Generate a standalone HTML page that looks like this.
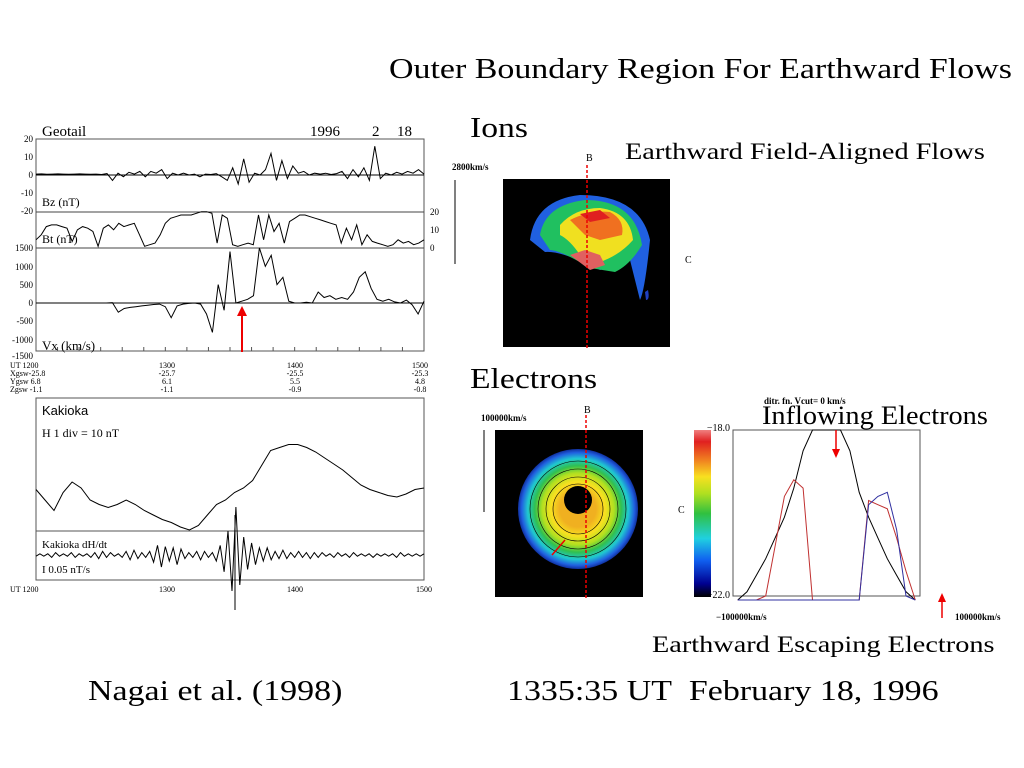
<!DOCTYPE html>
<html><head><meta charset="utf-8"><style>
body{margin:0;background:#fff;}
#root{position:relative;width:1024px;height:768px;overflow:hidden;font-family:"Liberation Serif",serif;}
.t{position:absolute;white-space:nowrap;color:#000;transform-origin:0 0;}
svg{position:absolute;left:0;top:0;}
</style></head><body>
<div id="root">
<div class="t" style="left:389px;top:53px;font-size:29px;transform:scaleX(1.17);">Outer Boundary Region For Earthward Flows</div>
<div class="t" style="left:470px;top:112px;font-size:29px;transform:scaleX(1.16);">Ions</div>
<div class="t" style="left:625px;top:139px;font-size:23px;transform:scaleX(1.23);">Earthward Field-Aligned Flows</div>
<div class="t" style="left:470px;top:363px;font-size:29px;transform:scaleX(1.16);">Electrons</div>
<div class="t" style="left:762px;top:401px;font-size:26px;transform:scaleX(1.09);">Inflowing Electrons</div>
<div class="t" style="left:652px;top:632px;font-size:23px;transform:scaleX(1.23);">Earthward Escaping Electrons</div>
<div class="t" style="left:88px;top:675px;font-size:29px;transform:scaleX(1.17);">Nagai et al. (1998)</div>
<div class="t" style="left:507px;top:675px;font-size:29px;transform:scaleX(1.17);">1335:35 UT&nbsp; February 18, 1996</div>
<svg id="chart" width="1024" height="768" font-family="Liberation Serif, serif">
<defs>
<radialGradient id="eg" cx="50%" cy="50%" r="50%">
<stop offset="0.3" stop-color="#f0b020"/><stop offset="0.45" stop-color="#f8e020"/><stop offset="0.6" stop-color="#b0e020"/><stop offset="0.72" stop-color="#30c050"/><stop offset="0.84" stop-color="#20c8d0"/><stop offset="0.94" stop-color="#2060e0"/><stop offset="1" stop-color="#1030a0"/></radialGradient>
<linearGradient id="cb" x1="0" y1="1" x2="0" y2="0">
<stop offset="0" stop-color="#000"/><stop offset="0.08" stop-color="#000090"/><stop offset="0.22" stop-color="#1060f0"/><stop offset="0.35" stop-color="#20d0e0"/><stop offset="0.5" stop-color="#30c040"/><stop offset="0.62" stop-color="#b0e020"/><stop offset="0.72" stop-color="#f8e020"/><stop offset="0.82" stop-color="#f08020"/><stop offset="0.93" stop-color="#e02020"/><stop offset="1" stop-color="#f08080"/></linearGradient>
</defs>
<g id="g"></g>
</svg>
</div>
<script>
// Geotail time series (1200-1500 UT, evenly spaced)
const bzValues=[0.5,0.6,0.4,0.5,0.6,0.5,0.4,0.5,0.6,0.5,0.4,0.5,0.3,0.8,-3,1,-1,1.5,0.5,2,-1,2,1,3,-2,1,0,1,0,0.5,-1,0.5,0.3,0.8,-1,-3,4,-5,9,-4,1,0,3,12,-3,8,-2,5,1,2,0,1,0.5,1,0.3,0.8,2,-2,3,-1,4,-3,16,-2,1,0,1.5,0.5,2,1,3,0.5];
const btValues=[5,8,13,14,14,13,12,4,11,13,12,10,1,12,14,11,15,13,14,15,8,1,2,3,8,15,18,19,20,20,20,21,22,22,21,3,20,18,2,1,2,3,2,20,5,20,10,15,3,16,18,20,20,19,18,17,16,15,14,3,12,5,14,2,8,4,3,2,1,2,5,3,4,2,3,5];
const vxValues=[0,0,0,0,0,0,0,0,0,0,0,0,0,10,-250,-150,-120,-100,-80,-60,-40,-30,-100,-400,-80,-30,-10,0,-30,-300,-800,500,-200,1400,0,50,100,200,1500,1000,1300,500,700,50,0,0,20,0,300,150,200,100,150,100,300,700,850,400,100,50,100,30,0,80,-50,-300,50];
// Kakioka H (nT rel.) and dH/dt
const hValues=[27,20,13,25,32,28,20,17,15,17,20,17,13,10,7,5,2,0,3,10,17,20,25,28,33,43,53,55,57,57,55,52,48,44,40,35,30,27,25,23,22,24,27,28];
const dhValues=[1,-1,1,-1,2,-2,1,-1,1,-2,2,-1,1,-1,2,-2,3,-3,2,-2,1,-1,2,-3,4,-4,3,-2,2,-3,6,-8,10,-7,5,-6,8,-5,3,-2,2,-3,4,-3,2,-2,5,-8,14,-20,30,-40,25,-15,12,-10,8,-6,5,-6,4,-3,3,-4,3,-2,2,-3,2,-2,3,-2,2,-2,1,-1,2,-2,1,-1,2,-2,1,-1,1,-1,2,-1,1,-1,1,-1,2,-2,1,-1,1,-1,1,-1];
// Electron distribution cuts (log f, -22..-18) over v from -1e5..1e5
const redCut=[-23,-23,-23,-22,-20.8,-19.6,-19.2,-19.4,-22.2,-23,-23,-23,-23,-23,-19.7,-19.8,-19.9,-20.6,-21.4,-22.1];
const blueCut=[-23,-23,-23,-23,-23,-23,-23,-23,-23,-23,-23,-23,-23,-23,-19.8,-19.6,-19.5,-20.4,-22.0,-23];
const blackCut=[-22.2,-21.9,-21.5,-21.1,-20.6,-20.1,-19.4,-18.5,-17,-17,-17,-17,-18.5,-19.5,-20.1,-20.6,-21.1,-21.5,-21.9,-22.2];
const g=document.getElementById('g');
const NS='http://www.w3.org/2000/svg';
function el(t,a,txt){const e=document.createElementNS(NS,t);for(const k in a)e.setAttribute(k,a[k]);if(txt!==undefined)e.textContent=txt;g.appendChild(e);return e;}
const tx=(i,n)=>36+i*(424-36)/(n-1);
function series(vals,yf,name,stroke,w,xf){let d='';vals.forEach((v,i)=>{d+=(i?'L':'M')+(xf?xf(i,vals.length):tx(i,vals.length)).toFixed(1)+' '+yf(v).toFixed(1);});
const p=el('path',{d:d,fill:'none',stroke:stroke||'#000','stroke-width':w||1});

}
// Geotail box
let r=el('rect',{x:36,y:139,width:388,height:212,fill:'none',stroke:'#555','stroke-width':1});

[212,248].forEach(y=>el('line',{x1:36,x2:424,y1:y,y2:y,stroke:'#444'}));
el('line',{x1:36,x2:424,y1:175,y2:175,stroke:'#000'});
el('line',{x1:36,x2:424,y1:303,y2:303,stroke:'#000'});
for(let i=0;i<=18;i++){const x=36+i*388/18;el('line',{x1:x,x2:x,y1:351,y2:347,stroke:'#555'});}
const ts=9;const fs={'font-size':ts,'font-family':'Liberation Serif, serif'};
[[20,139],[10,157],[0,175],[-10,193],[-20,211]].forEach(a=>el('text',Object.assign({x:33,y:a[1]+3,'text-anchor':'end'},fs),a[0]));
[[1500,248],[1000,267],[500,285],[0,303],[-500,321],[-1000,340],[-1500,356]].forEach(a=>el('text',Object.assign({x:33,y:a[1]+3,'text-anchor':'end'},fs),a[0]));
[[20,212],[10,230],[0,248]].forEach(a=>el('text',Object.assign({x:430,y:a[1]+3},fs),a[0]));
el('text',{x:42,y:136,'font-size':15},'Geotail');
el('text',{x:310,y:136,'font-size':15},'1996');
el('text',{x:372,y:136,'font-size':15},'2');
el('text',{x:397,y:136,'font-size':15},'18');
el('text',{x:42,y:206,'font-size':12},'Bz (nT)');
el('text',{x:42,y:243,'font-size':12},'Bt (nT)');
el('text',{x:42,y:350,'font-size':13},'Vx (km/s)');
series(bzValues,v=>175-v*1.8,'bz-trace','#000',1);
series(btValues,v=>248-v*1.65,'bt-trace','#000',1);
series(vxValues,v=>303-v*0.0367,'vx-trace','#000',1);
el('line',{x1:242,x2:242,y1:352,y2:314,stroke:'#e00','stroke-width':2});
el('path',{d:'M237 316 L242 306 L247 316Z',fill:'#e00'});
el('text',{x:10,y:368,'font-size':8},'UT  1200');
el('text',{x:10,y:376,'font-size':8},'Xgsw-25.8');
el('text',{x:10,y:384,'font-size':8},'Ygsw  6.8');
el('text',{x:10,y:392,'font-size':8},'Zgsw  -1.1');
[[167,'1300','-25.7','6.1','-1.1'],[295,'1400','-25.5','5.5','-0.9'],[420,'1500','-25.3','4.8','-0.8']].forEach(a=>{for(let k=0;k<4;k++)el('text',{x:a[0],y:368+k*8,'font-size':8,'text-anchor':'middle'},a[k+1]);});
// Kakioka
r=el('rect',{x:36,y:398,width:388,height:182,fill:'none',stroke:'#555'});

el('line',{x1:36,x2:424,y1:531,y2:531,stroke:'#555'});
el('text',{x:42,y:415,'font-size':13,'font-family':'Liberation Sans, sans-serif'},'Kakioka');
el('text',{x:42,y:437,'font-size':12},'H   1 div =  10 nT');
el('text',{x:42,y:548,'font-size':11},'Kakioka   dH/dt');
el('text',{x:42,y:573,'font-size':11},'I  0.05      nT/s');
series(hValues,v=>530-v*1.5,'h-trace','#000',1);
series(dhValues,v=>555+v*1.2,'dhdt-trace','#000',1);
el('line',{x1:235,x2:235,y1:515,y2:610,stroke:'#000'});
[['UT 1200',10],['1300',167],['1400',295],['1500',424]].forEach((a,i)=>el('text',{x:a[1],y:592,'font-size':8,'text-anchor':i?'middle':'start'},a[0]));
// Ion plot
el('text',{x:452,y:170,'font-size':9,'font-weight':'bold'},'2800km/s');
el('text',{x:586,y:161,'font-size':10},'B');
el('text',{x:685,y:263,'font-size':10},'C');
el('line',{x1:455,x2:455,y1:180,y2:264,stroke:'#000'});
r=el('rect',{x:503,y:179,width:167,height:168,fill:'#000'});

el('path',{d:'M530 240 Q535 200 580 195 Q640 195 650 240 Q645 290 640 300 L630 260 L620 265 L600 270 Q560 250 545 252 Z',fill:'#2060e0'});
el('path',{d:'M540 235 Q545 205 585 200 Q635 200 642 245 Q630 265 615 272 L590 268 Q560 250 550 250Z',fill:'#20c060'});
el('path',{d:'M560 225 Q575 208 600 208 Q630 212 633 240 Q620 255 600 262 L580 255 Q570 240 560 235Z',fill:'#f0e020'});
el('path',{d:'M570 220 Q590 210 610 212 Q625 220 622 235 L600 240 L585 235Z',fill:'#f07020'});
el('path',{d:'M580 214 L600 210 L610 218 L590 222Z',fill:'#e02020'});
el('path',{d:'M570 255 L585 250 L600 255 L610 275 L605 265 L590 270 Z',fill:'#e06060'});
el('path',{d:'M648 290 Q650 300 646 300 L645 292Z',fill:'#2040c0'});
el('line',{x1:587,x2:587,y1:165,y2:350,stroke:'#e00','stroke-dasharray':'3,2','stroke-width':1.5});
// Electron plot
el('text',{x:481,y:421,'font-size':9,'font-weight':'bold'},'100000km/s');
el('text',{x:584,y:413,'font-size':10},'B');
el('text',{x:678,y:513,'font-size':10},'C');
el('line',{x1:484,x2:484,y1:430,y2:512,stroke:'#000'});
r=el('rect',{x:495,y:430,width:148,height:167,fill:'#000'});

el('ellipse',{cx:578,cy:509,rx:60,ry:60,fill:'url(#eg)'});
[48,40,32,25].forEach(rr=>el('circle',{cx:578,cy:509,r:rr,fill:'none',stroke:'#000','stroke-width':0.6}));
el('ellipse',{cx:578,cy:500,rx:14,ry:14,fill:'#000'});
el('line',{x1:586,x2:586,y1:415,y2:600,stroke:'#e00','stroke-dasharray':'3,2','stroke-width':1.5});
el('line',{x1:552,x2:565,y1:555,y2:540,stroke:'#e00','stroke-width':1.5});
r=el('rect',{x:694,y:430,width:17,height:167,fill:'url(#cb)'});

// Cut plot
r=el('rect',{x:733,y:430,width:187,height:166,fill:'none',stroke:'#555'});

el('text',{x:764,y:404,'font-size':9,'font-weight':'bold'},'ditr. fn. Vcut=     0 km/s');
el('text',{x:730,y:431,'font-size':10,'text-anchor':'end'},'\u221218.0');
el('text',{x:730,y:598,'font-size':10,'text-anchor':'end'},'\u221222.0');
el('text',{x:716,y:620,'font-size':9,'font-weight':'bold'},'\u2212100000km/s');
el('text',{x:955,y:620,'font-size':9,'font-weight':'bold'},'100000km/s');
const cx=(i,n)=>733+(i+0.5)*187/n;
const cy=v=>Math.max(430,Math.min(600,596-(v+22)*41.5));
series(blackCut,cy,'black-cut','#000',1,cx);
series(redCut,cy,'red-cut','#c03030',1,cx);
series(blueCut,cy,'blue-cut','#3030a0',1,cx);
el('line',{x1:836,x2:836,y1:430,y2:450,stroke:'#e00','stroke-width':1.5});
el('path',{d:'M832 449 L836 458 L840 449Z',fill:'#e00'});
el('line',{x1:942,x2:942,y1:618,y2:600,stroke:'#e00','stroke-width':1.5});
el('path',{d:'M938 602 L942 593 L946 602Z',fill:'#e00'});
</script>
</body></html>
